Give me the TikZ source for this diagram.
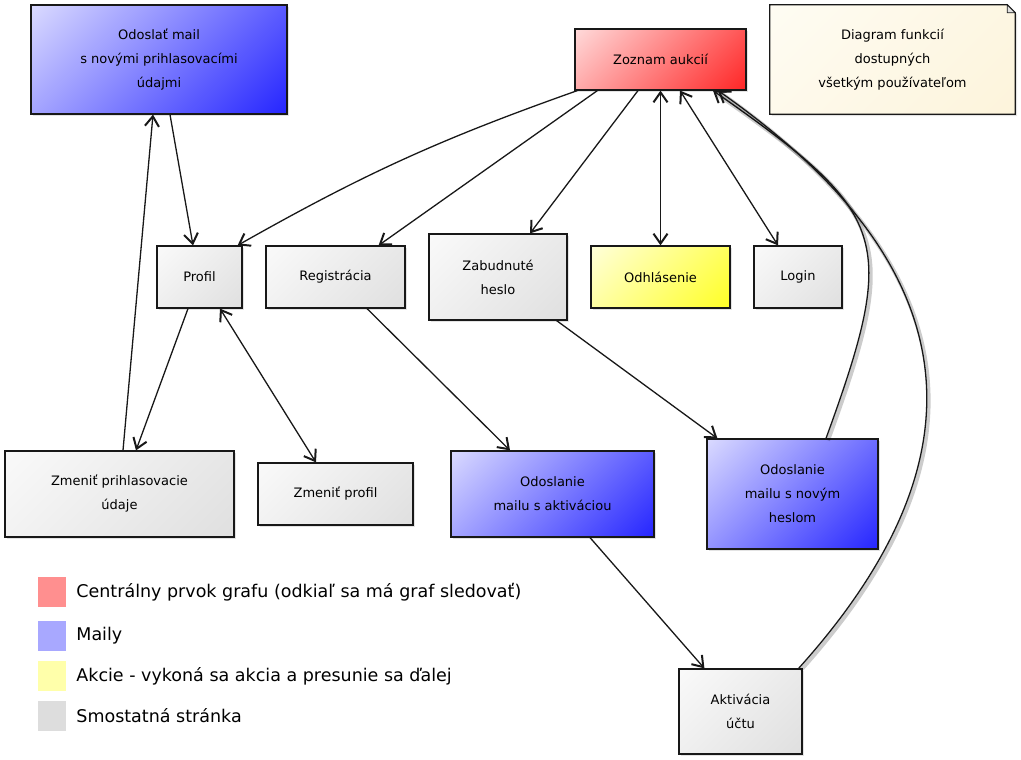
\documentclass[tikz,border=0pt]{standalone}
\usepackage{fontspec}
\setmainfont{DejaVu Sans}
\usetikzlibrary{arrows.meta,shadows,positioning,backgrounds}

\definecolor{boxgray}{RGB}{218,218,218}
\definecolor{edge}{RGB}{24,24,24}
\definecolor{noteA}{RGB}{255,254,248}
\definecolor{noteB}{RGB}{252,242,214}
\definecolor{legred}{RGB}{255,143,143}
\definecolor{legblue}{RGB}{168,168,255}
\definecolor{legyellow}{RGB}{255,255,170}
\definecolor{leggray}{RGB}{221,221,221}

\colorlet{shadeA}{white}
\colorlet{shadeB}{boxgray}
\pgfdeclareverticalshading[shadeA,shadeB]{diagshade}{100bp}{color(0bp)=(shadeB); color(100bp)=(shadeA)}

\tikzset{
	box/.style={draw=edge, line width=1.2pt, inner sep=0pt, align=center,
		font=\fontsize{13}{24}\selectfont,
		drop shadow={shadow xshift=2pt, shadow yshift=-2pt, opacity=0.22},
		/utils/exec={\colorlet{shadeA}{white}\colorlet{shadeB}{#1}},
		shade, shading=diagshade, shading angle=45},
	box/.default=boxgray,
	conn/.style={line width=1.3pt, draw=edge, -{Straight Barb[length=10pt, width=14pt, line width=2pt]}},
	conn2/.style={line width=1.3pt, draw=edge, {Straight Barb[length=10pt, width=14pt, line width=2pt]}-{Straight Barb[length=10pt, width=14pt, line width=2pt]}},
	shadowline/.style={preaction={draw=black, -, line width=4pt, opacity=0.2,
		transform canvas={shift={(2pt,-2pt)}}}},
	legsq/.style={minimum width=28pt, minimum height=30pt, inner sep=0pt},
	legtext/.style={font=\fontsize{17.5}{20}\selectfont, text=black, inner sep=0pt}
}

\begin{document}
\begin{tikzpicture}[x=1pt, y=1pt]
	\useasboundingbox (0,0) rectangle (1021,760);

	\node[box=red, minimum width=171pt, minimum height=61pt] (zoznam) at (660.5,700.5) {Zoznam aukcií};
	\node[box=blue, minimum width=256pt, minimum height=109pt] (mailUdaje) at (159,700.5) {Odoslať mail\\s novými prihlasovacími\\údajmi};
	\node[minimum width=245pt, minimum height=109pt, inner sep=0pt, align=center, font=\fontsize{13}{24}\selectfont] (popis) at (892.5,700.5) {Diagram funkcií\\dostupných\\všetkým používateľom};

	\node[box, minimum width=85pt, minimum height=62pt] (profil) at (199.5,483) {Profil};
	\node[box, minimum width=139pt, minimum height=62pt] (registracia) at (335.5,483) {Registrácia};
	\node[box, minimum width=138pt, minimum height=86pt] (heslo) at (498,483) {Zabudnuté\\heslo};
	\node[box=yellow, minimum width=139pt, minimum height=62pt] (odhlasenie) at (660.5,483) {Odhlásenie};
	\node[box, minimum width=88pt, minimum height=62pt] (login) at (798,483) {Login};

	\node[box, minimum width=229pt, minimum height=86pt] (zmenaUdajov) at (119.5,266) {Zmeniť prihlasovacie\\údaje};
	\node[box, minimum width=155pt, minimum height=62pt] (zmenaProfilu) at (335.5,266) {Zmeniť profil};
	\node[box=blue, minimum width=203pt, minimum height=86pt] (mailAktivacia) at (552.5,266) {Odoslanie\\mailu s aktiváciou};
	\node[box=blue, minimum width=171pt, minimum height=110pt] (mailHeslo) at (792.5,266) {Odoslanie\\mailu s novým\\heslom};
	\node[box, minimum width=123pt, minimum height=85pt] (aktivacia) at (740.5,48.5) {Aktivácia\\účtu};

	\begin{scope}[on background layer]
		\path[draw=edge, line width=1.2pt, /utils/exec={\colorlet{shadeA}{noteA}\colorlet{shadeB}{noteB}},
			shade, shading=diagshade, shading angle=45,
			drop shadow={shadow xshift=2pt, shadow yshift=-2pt, opacity=0.22}]
			(popis.south west) -- (popis.north west) -- ([xshift=-8pt]popis.north east)
			-- ([yshift=-8pt]popis.north east) -- (popis.south east) -- cycle;
		\filldraw[draw=edge, line width=0.8pt, fill=black!12] ([xshift=-8pt]popis.north east) |- ([yshift=-8pt]popis.north east) -- cycle;
	\end{scope}

	\draw[conn] ([xshift=3pt]zoznam.south west) to[bend right=5] ([xshift=-5pt]profil.north east);
	\draw[conn] ([xshift=23pt]zoznam.south west) -- ([xshift=-27pt]registracia.north east);
	\draw[conn] ([xshift=-22.5pt]zoznam.south) -- ([xshift=32pt]heslo.north);
	\draw[conn2] (zoznam.south) -- (odhlasenie.north);
	\draw[conn2] ([xshift=19.5pt]zoznam.south) -- ([xshift=-20pt]login.north);
	\draw[conn, shadowline] ([xshift=33.5pt]mailHeslo.north) to[out=70, in=-35, looseness=1.5] ([xshift=52.5pt]zoznam.south);
	\draw[conn, shadowline] ([xshift=-4pt]aktivacia.north east) to[out=48, in=-35, looseness=1.3] ([xshift=57.5pt]zoznam.south);

	\draw[conn] ([xshift=11pt]mailUdaje.south) -- ([xshift=-6.5pt]profil.north);
	\draw[conn] ([xshift=3.5pt]zmenaUdajov.north) -- ([xshift=-6pt]mailUdaje.south);
	\draw[conn] ([xshift=-11.5pt]profil.south) -- ([xshift=16.5pt]zmenaUdajov.north);
	\draw[conn2] ([xshift=20.5pt]profil.south) -- ([xshift=-19.5pt]zmenaProfilu.north);
	\draw[conn] ([xshift=31.5pt]registracia.south) -- ([xshift=-42.5pt]mailAktivacia.north);
	\draw[conn] ([xshift=-11pt]heslo.south east) -- ([xshift=11pt]mailHeslo.north west);
	\draw[conn] ([xshift=37.5pt]mailAktivacia.south) -- ([xshift=26pt]aktivacia.north west);

	\node[legsq, fill=legred] (legCentral) at (52,168) {};
	\node[legtext, right=10pt of legCentral] {Centrálny prvok grafu (odkiaľ sa má graf sledovať)};
	\node[legsq, fill=legblue] (legMaily) at (52,124) {};
	\node[legtext, right=10pt of legMaily] {Maily};
	\node[legsq, fill=legyellow] (legAkcie) at (52,84) {};
	\node[legtext, right=10pt of legAkcie] {Akcie - vykoná sa akcia a presunie sa ďalej};
	\node[legsq, fill=leggray] (legStranka) at (52,44) {};
	\node[legtext, right=10pt of legStranka] {Smostatná stránka};
\end{tikzpicture}
\end{document}
